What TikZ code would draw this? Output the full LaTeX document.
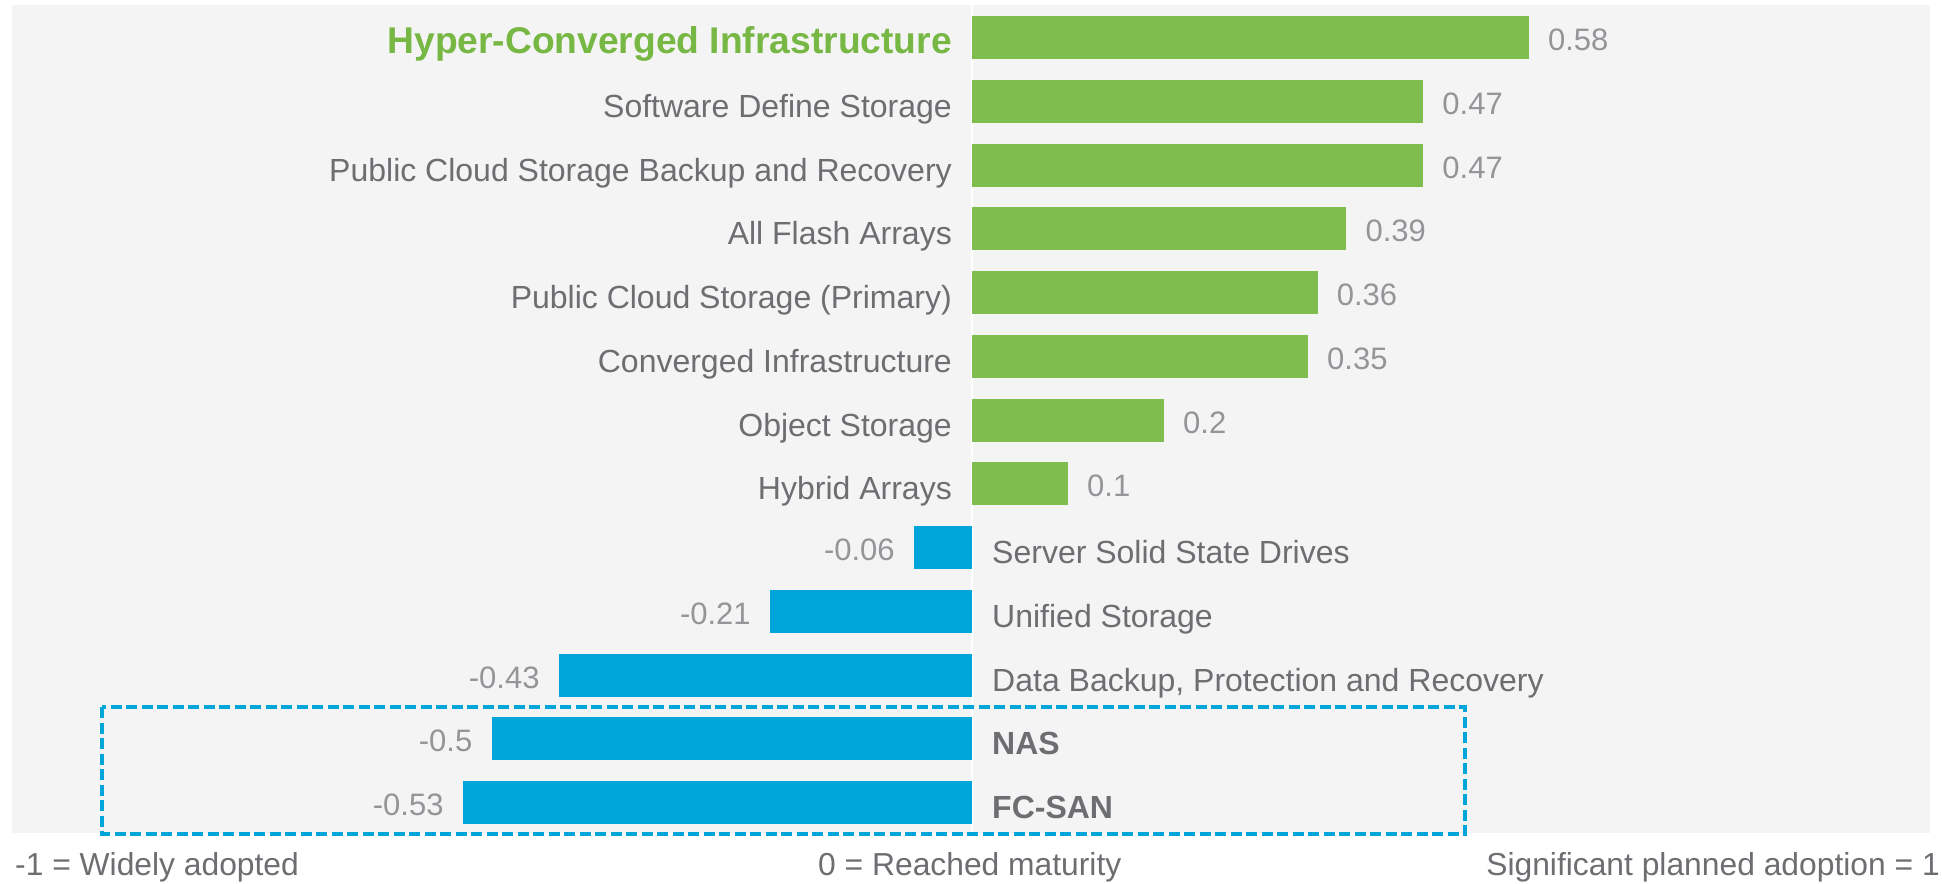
\documentclass[tikz,border=0pt]{standalone}
\usepackage{fontspec}
\setmainfont{Liberation Sans}
\definecolor{bgc}{HTML}{F4F4F4}
\definecolor{barg}{HTML}{7FBD4F}
\definecolor{barb}{HTML}{00A6DA}
\definecolor{titleg}{HTML}{76B843}
\definecolor{labc}{HTML}{6D6E71}
\definecolor{valc}{HTML}{939598}
\tikzset{
  lab/.style={inner sep=0pt, text=labc, font=\fontsize{32}{38}\selectfont},
  val/.style={inner sep=0pt, text=valc, font=\fontsize{31}{37}\selectfont},
  gbar/.style={fill=barg, draw=none},
  bbar/.style={fill=barb, draw=none},
  axl/.style={inner sep=0pt, text=labc, font=\fontsize{31.8}{38}\selectfont},
}
\begin{document}
\begin{tikzpicture}[x=1pt,y=-1pt]
\useasboundingbox (0,0) rectangle (1942,883);
\fill[white] (0,0) rectangle (1942,883);
\fill[bgc] (12,5) rectangle (1930,833);
\draw[white, line width=1.5pt] (972,5) -- (972,833);
% positive
\foreach \i/\v/\t/\s in {
  0/0.58/Hyper-Converged Infrastructure/t,
  1/0.47/Software Define Storage/n,
  2/0.47/Public Cloud Storage Backup and Recovery/n,
  3/0.39/All Flash Arrays/n,
  4/0.36/Public Cloud Storage (Primary)/n,
  5/0.35/Converged Infrastructure/n,
  6/0.2/Object Storage/n,
  7/0.1/Hybrid Arrays/n}{
  \pgfmathsetmacro\yy{37.5+63.75*\i}
  \pgfmathsetmacro\xe{972+960*\v}
  \fill[gbar] (972,\yy-21.5) rectangle (\xe,\yy+21.5);
  \node[val, anchor=base west] (v\i) at (\xe+19,\yy+13) {\v};
  \if\s t
    \node[lab, anchor=base east, text=titleg, font=\fontsize{37.2}{43}\selectfont\bfseries] (l\i) at (952,\yy+16.5) {\t};
  \else
    \node[lab, anchor=base east] (l\i) at (952,\yy+16) {\t};
  \fi
}
% negative
\foreach \i/\v/\t/\s in {
  8/0.06/Server Solid State Drives/n,
  9/0.21/Unified Storage/n,
  10/0.43/{Data Backup, Protection and Recovery}/n,
  11/0.5/NAS/b,
  12/0.53/FC-SAN/b}{
  \pgfmathsetmacro\yy{37.5+63.75*\i}
  \pgfmathsetmacro\xs{972-960*\v}
  \fill[bbar] (\xs,\yy-21.5) rectangle (972,\yy+21.5);
  \node[val, anchor=base east] (v\i) at (\xs-19.5,\yy+13) {-\v};
  \if\s b
    \node[lab, anchor=base west, font=\fontsize{32}{38}\selectfont\bfseries] (l\i) at (992,\yy+15.5) {\t};
  \else
    \node[lab, anchor=base west] (l\i) at (992,\yy+16) {\t};
  \fi
}
% dashed highlight box
\draw[barb, line width=3.3pt, dash pattern=on 11pt off 4.5pt] (102,707) rectangle (1465,834);
% axis captions
\node[axl, anchor=base west] (a1) at (15,875) {-1 = Widely adopted};
\node[axl, anchor=base west] (a2) at (818,875) {0 = Reached maturity};
\node[axl, anchor=base east] (a3) at (1940,875) {Significant planned adoption = 1};
\end{tikzpicture}
\end{document}
